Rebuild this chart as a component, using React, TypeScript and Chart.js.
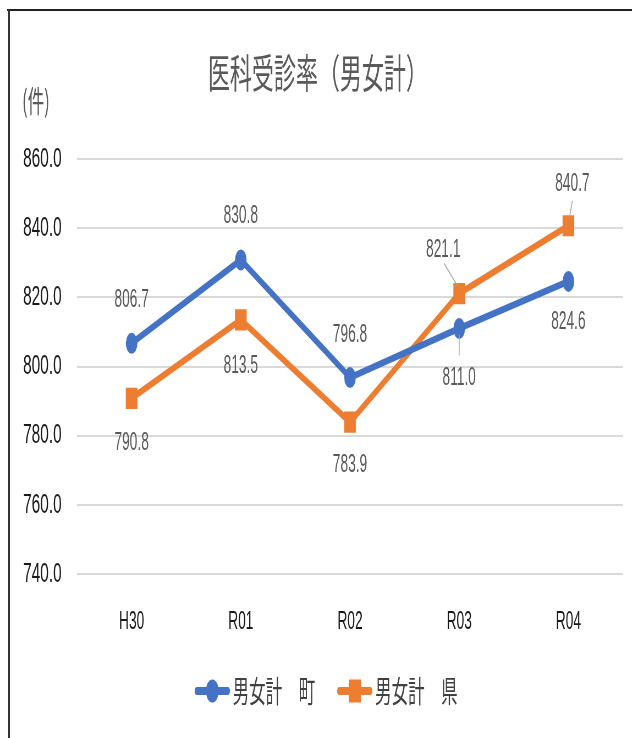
import React, { useEffect, useRef } from "react";
import { Chart, registerables } from "chart.js";

Chart.register(...registerables);

// ---- data ----
const categories = ["H30", "R01", "R02", "R03", "R04"];
const townValues = [806.7, 830.8, 796.8, 811.0, 824.6];
const prefValues = [790.8, 813.5, 783.9, 821.1, 840.7];
const seriesNames = ["男女計　町", "男女計　県"];
const chartTitle = "医科受診率（男女計）";
const unitLabel = "(件)";
const yMin = 740;
const yMax = 860;
const yStep = 20;

// ---- look ----
const SX = 0.55; // horizontal squeeze of the whole picture
const W = Math.round(632 / SX);
const H = 738;
const BLUE = "#4472C4";
const ORANGE = "#ED7D31";
const NUM_FONT = '"Liberation Sans", Arial, sans-serif';
const JP_FONT = '"Noto Sans CJK JP", "Noto Sans", sans-serif';
const MARK_LEFT = 20; // transparent room left of each legend marker
const MARK_BOX = 54; // legend box width after the transparent room
const MARK_LINE = 64; // visible legend line length
const LEGEND_FONT = 30;
const LEGEND_PAD = 20;

// label placement relative to each point (page pixels)
type Place = { dx: number; dy: number; leader?: [number, number, number, number] };
const townPlace: Place[] = [
  { dx: 0, dy: -43 },
  { dx: 0, dy: -44 },
  { dx: 0, dy: -42 },
  { dx: 0, dy: 50, leader: [0, 6, 0, 27] },
  { dx: 0, dy: 41 },
];
const prefPlace: Place[] = [
  { dx: 0, dy: 45 },
  { dx: 0, dy: 46 },
  { dx: 0, dy: 43 },
  { dx: -16, dy: -43, leader: [-15, -30, -2, -8] },
  { dx: 4, dy: -42, leader: [4, -25, 1, -8] },
];

function makeMarker(color: string, style: "circle" | "rect") {
  const boxW = MARK_LEFT + MARK_BOX;
  const extra = 10;
  const c = document.createElement("canvas");
  c.width = boxW + 2 * extra;
  c.height = 30;
  const g = c.getContext("2d")!;
  const x0 = MARK_LEFT + extra;
  const cy = 15;
  g.strokeStyle = color;
  g.lineWidth = 8;
  g.lineCap = "round";
  g.beginPath();
  g.moveTo(x0 + 4, cy);
  g.lineTo(x0 + MARK_LINE - 4, cy);
  g.stroke();
  g.fillStyle = color;
  const mid = x0 + MARK_LINE / 2;
  if (style === "circle") {
    g.beginPath();
    g.arc(mid, cy, 11.5, 0, Math.PI * 2);
    g.fill();
  } else {
    g.fillRect(mid - 11, cy - 11.5, 22, 23);
  }
  return c;
}

const labelPlugin = {
  id: "valueLabels",
  afterLayout(chart: any) {
    const lg = chart.legend;
    if (!lg) return;
    const h = LEGEND_FONT + 2 * LEGEND_PAD;
    lg.top = 691 - LEGEND_FONT / 2 - LEGEND_PAD;
    lg.bottom = lg.top + h;
    lg.height = h;
    lg.left += 5;
    lg.right += 5;
  },
  afterDatasetsDraw(chart: any) {
    const ctx = chart.ctx as CanvasRenderingContext2D;
    const xs = chart.scales.x;
    const ys = chart.scales.y;
    const sets: [number[], Place[]][] = [
      [townValues, townPlace],
      [prefValues, prefPlace],
    ];
    ctx.save();
    ctx.font = `25px ${NUM_FONT}`;
    ctx.fillStyle = "#595959";
    ctx.textAlign = "center";
    ctx.textBaseline = "middle";
    ctx.strokeStyle = "#a6a6a6";
    ctx.lineWidth = 1.6;
    sets.forEach(([vals, places]) => {
      vals.forEach((v, i) => {
        const px = xs.getPixelForValue(i);
        const py = ys.getPixelForValue(v);
        const p = places[i];
        if (p.leader) {
          const l = p.leader;
          ctx.beginPath();
          ctx.moveTo(px + l[0] / SX, py + l[1]);
          ctx.lineTo(px + l[2] / SX, py + l[3]);
          ctx.stroke();
        }
        ctx.fillText(v.toFixed(1), px + p.dx / SX, py + p.dy);
      });
    });
    ctx.restore();
  },
  afterDraw(chart: any) {
    const ctx = chart.ctx as CanvasRenderingContext2D;
    ctx.save();
    ctx.font = `30px ${JP_FONT}`;
    ctx.fillStyle = "#595959";
    ctx.textAlign = "left";
    ctx.textBaseline = "middle";
    ctx.fillText(unitLabel, 22 / SX, 101);
    ctx.restore();
  },
};

export default function App() {
  const ref = useRef<HTMLCanvasElement | null>(null);

  useEffect(() => {
    if (!ref.current) return;
    const markers = [makeMarker(BLUE, "circle"), makeMarker(ORANGE, "rect")];
    const chart = new Chart(ref.current, {
      type: "line",
      data: {
        labels: categories,
        datasets: [
          {
            label: seriesNames[0],
            data: townValues,
            borderColor: BLUE,
            backgroundColor: BLUE,
            borderWidth: 7,
            pointStyle: "circle",
            pointRadius: 10.5,
            pointBorderWidth: 0,
            pointBackgroundColor: BLUE,
            tension: 0,
          },
          {
            label: seriesNames[1],
            data: prefValues,
            borderColor: ORANGE,
            backgroundColor: ORANGE,
            borderWidth: 7,
            pointStyle: "rect",
            pointRadius: 15,
            pointBorderWidth: 0,
            pointBackgroundColor: ORANGE,
            tension: 0,
          },
        ],
      },
      options: {
        responsive: false,
        animation: false,
        events: [],
        layout: { padding: { top: 0, left: 23.3, right: 16.3, bottom: 41 } },
        scales: {
          x: {
            offset: true,
            grid: { display: false, drawTicks: false },
            border: { display: false },
            ticks: {
              padding: 33,
              color: "#1a1a1a",
              font: { size: 25, family: NUM_FONT },
              maxRotation: 0,
              autoSkip: false,
            },
            afterFit: (s: any) => {
              s.height = 63;
            },
          },
          y: {
            min: yMin,
            max: yMax,
            grid: { color: "#d9d9d9", lineWidth: 2, drawTicks: false },
            border: { display: false },
            ticks: {
              stepSize: yStep,
              padding: 28,
              color: "#1a1a1a",
              font: { size: 28, family: NUM_FONT },
              callback: (v: any) => Number(v).toFixed(1),
            },
            afterFit: (s: any) => {
              s.width = 116.7;
            },
          },
        },
        plugins: {
          title: {
            display: true,
            text: chartTitle,
            color: "#595959",
            font: { size: 40, family: JP_FONT, weight: "normal", lineHeight: 1.2 },
            padding: { top: 49, bottom: 62 },
          },
          legend: {
            position: "bottom",
            labels: {
              usePointStyle: true,
              pointStyleWidth: MARK_LEFT + MARK_BOX,
              padding: LEGEND_PAD,
              color: "#404040",
              font: { size: LEGEND_FONT, family: JP_FONT },
              generateLabels: (c: any) =>
                c.data.datasets.map((ds: any, i: number) => ({
                  text: ds.label,
                  pointStyle: markers[i],
                  fillStyle: ds.borderColor,
                  strokeStyle: ds.borderColor,
                  lineWidth: 0,
                  hidden: false,
                  datasetIndex: i,
                  fontColor: "#404040",
                })),
            },
          },
          tooltip: { enabled: false },
        },
      },
      plugins: [labelPlugin],
    } as any);
    return () => chart.destroy();
  }, []);

  return (
    <div
      style={{
        position: "fixed",
        left: 0,
        top: 0,
        width: 632,
        height: 738,
        background: "#fff",
        overflow: "hidden",
      }}
    >
      <div
        style={{
          position: "absolute",
          left: 0,
          top: 0,
          width: W,
          height: H,
          transform: `scaleX(${SX})`,
          transformOrigin: "0 0",
        }}
      >
        <canvas ref={ref} width={W} height={H} style={{ width: W, height: H, display: "block" }} />
      </div>
      <div style={{ position: "absolute", left: 7, top: 9, width: 625, height: 2, background: "#222" }} />
      <div style={{ position: "absolute", left: 8, top: 9, width: 1.5, height: 729, background: "#333" }} />
    </div>
  );
}
